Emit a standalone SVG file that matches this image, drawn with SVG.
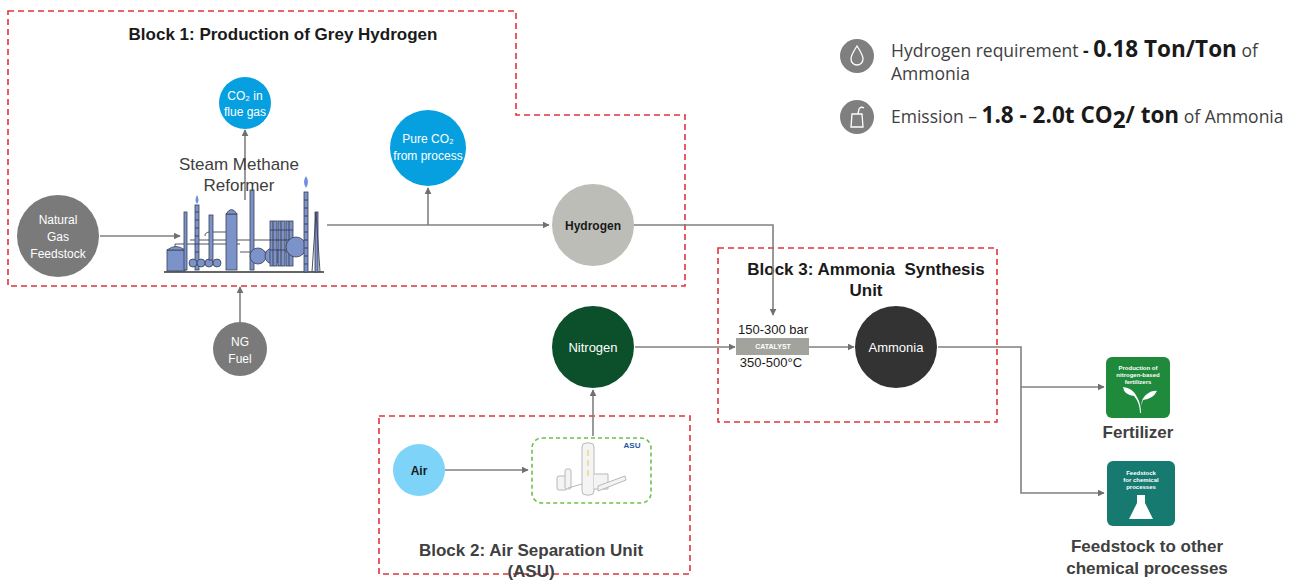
<svg xmlns="http://www.w3.org/2000/svg" width="1296" height="580" viewBox="0 0 1296 580">
  <style>
    .block { fill: none; stroke: #e0343c; stroke-width: 1.6; stroke-dasharray: 6 4; }
    .title { font-family: "Liberation Sans", Arial, sans-serif; font-weight: bold; font-size: 17px; fill: #1a1a1a; text-anchor: middle; }
    .title2 { font-family: "Liberation Sans", Arial, sans-serif; font-weight: bold; font-size: 17px; fill: #404040; text-anchor: middle; }
    .lbl { font-family: "Liberation Sans", Arial, sans-serif; font-size: 12px; fill: #ffffff; text-anchor: middle; }
    .lblb { font-family: "Liberation Sans", Arial, sans-serif; font-size: 12px; font-weight: bold; fill: #1a1a1a; text-anchor: middle; }
    .small { font-family: "Liberation Sans", Arial, sans-serif; font-size: 13px; fill: #1a1a1a; text-anchor: middle; }
    .conn { fill: none; stroke: #808080; stroke-width: 1.6; }
    .legend { font-family: "Open Sans", "Liberation Sans", sans-serif; font-size: 17.5px; fill: #404040; }
    .legendb { font-family: "Open Sans", "Liberation Sans", sans-serif; font-size: 22.5px; font-weight: bold; fill: #1a1a1a; }
    .tiny { font-family: "Liberation Sans", Arial, sans-serif; font-size: 6px; font-weight: bold; fill: #ffffff; text-anchor: middle; }
    .ref { fill: #7b93c9; stroke: #3a3f55; stroke-width: 0.8; }
    .refl { fill: none; stroke: #3a3f55; stroke-width: 0.9; }
  </style>
  <defs>
    <marker id="arr" viewBox="0 0 10 10" refX="9" refY="5" markerWidth="7" markerHeight="7" markerUnits="userSpaceOnUse" orient="auto">
      <path d="M0,0 L10,5 L0,10 z" fill="#707070"/>
    </marker>
  </defs>

  <rect width="1296" height="580" fill="#ffffff"/>

  <!-- process blocks -->
  <g id="block1">
    <path class="block" d="M8,11 H516 V115 H685 V286 H8 Z"/>
    <text class="title" x="283" y="40">Block 1: Production of Grey Hydrogen</text>
  </g>
  <g id="block2">
    <rect class="block" x="379" y="416" width="311" height="158"/>
    <text class="title2" x="531" y="556">Block 2: Air Separation Unit</text>
    <text class="title2" x="531" y="577">(ASU)</text>
  </g>
  <g id="block3">
    <rect class="block" x="718" y="248" width="279" height="174"/>
    <text class="title" x="866" y="275">Block 3: Ammonia&#160; Synthesis</text>
    <text class="title" x="866" y="296">Unit</text>
  </g>

  <!-- connectors -->
  <g id="connectors">
    <line class="conn" x1="100" y1="236" x2="180" y2="236" marker-end="url(#arr)"/>
    <line class="conn" x1="245" y1="200" x2="245" y2="130" marker-end="url(#arr)"/>
    <line class="conn" x1="327" y1="225" x2="549" y2="225" marker-end="url(#arr)"/>
    <line class="conn" x1="428" y1="225" x2="428" y2="188" marker-end="url(#arr)"/>
    <polyline class="conn" points="634,225 773,225 773,315" marker-end="url(#arr)"/>
    <line class="conn" x1="240" y1="322" x2="240" y2="287" marker-end="url(#arr)"/>
    <line class="conn" x1="635" y1="347" x2="735" y2="347" marker-end="url(#arr)"/>
    <line class="conn" x1="809" y1="347" x2="854" y2="347" marker-end="url(#arr)"/>
    <line class="conn" x1="593" y1="436" x2="593" y2="390" marker-end="url(#arr)"/>
    <line class="conn" x1="445" y1="470" x2="528" y2="470" marker-end="url(#arr)"/>
    <polyline class="conn" points="938,347 1021,347 1021,493 1104,493" marker-end="url(#arr)"/>
    <line class="conn" x1="1021" y1="387" x2="1104" y2="387" marker-end="url(#arr)"/>
  </g>

  <!-- Block 1 nodes -->
  <g id="natural-gas">
    <circle cx="58" cy="236" r="41" fill="#7a7a7a"/>
    <text class="lbl" x="58" y="224">Natural</text>
    <text class="lbl" x="58" y="241">Gas</text>
    <text class="lbl" x="58" y="258">Feedstock</text>
  </g>
  <g id="co2-flue">
    <circle cx="245" cy="103" r="26" fill="#069fdf"/>
    <text class="lbl" x="245" y="100">CO₂ in</text>
    <text class="lbl" x="245" y="116">flue gas</text>
  </g>
  <g id="co2-pure">
    <circle cx="428" cy="148" r="38" fill="#069fdf"/>
    <text class="lbl" x="428" y="143">Pure CO₂</text>
    <text class="lbl" x="428" y="160">from process</text>
  </g>
  <g id="smr">
    <!-- refinery sketch -->
    <g>
      <line x1="164" y1="272" x2="324" y2="272" stroke="#333" stroke-width="1.5"/>
      <path class="refl" d="M175,252 V244 H200 M200,244 H240 M190,240 H300 M205,236 Q205,232 210,232 H232 M240,252 H300"/>
      <rect class="ref" x="167" y="250" width="18" height="21"/>
      <path class="ref" d="M167,250 Q176,243 185,250 Z"/>
      <rect class="ref" x="184" y="212" width="3" height="58"/>
      <rect class="ref" x="195" y="205" width="4" height="65"/>
      <path class="refl" d="M195,212 H199 M195,220 H199 M195,228 H199 M195,236 H199 M195,244 H199 M195,252 H199" stroke-width="0.6"/>
      <path d="M197,195 q-3,5 0,9 q3,-4 0,-9z" fill="#6f8fe0"/>
      <circle class="ref" cx="193" cy="263" r="4"/>
      <circle class="ref" cx="201" cy="263" r="4"/>
      <circle class="ref" cx="209" cy="263" r="4"/>
      <circle class="ref" cx="217" cy="263" r="4"/>
      <rect class="ref" x="209" y="215" width="4" height="45"/>
      <rect class="ref" x="226" y="214" width="11" height="56"/>
      <path class="ref" d="M226,214 Q231.5,205 237,214 Z"/>
      <rect class="ref" x="250" y="190" width="4" height="80"/>
      <circle class="ref" cx="258" cy="256" r="8"/>
      <circle class="ref" cx="273" cy="256" r="8"/>
      <rect class="ref" x="270" y="221" width="7" height="45"/>
      <rect class="ref" x="278" y="221" width="7" height="45"/>
      <rect class="ref" x="286" y="221" width="7" height="45"/>
      <path class="refl" d="M270,230 H293 M270,240 H293 M270,250 H293 M273,221 V266 M281,221 V266 M289,221 V266" stroke-width="0.5"/>
      <circle class="ref" cx="296" cy="247" r="10"/>
      <rect class="ref" x="304" y="192" width="4" height="80"/>
      <path class="refl" d="M304,200 H308 M304,208 H308 M304,216 H308 M304,224 H308 M304,232 H308 M304,240 H308 M304,248 H308 M304,256 H308 M304,264 H308" stroke-width="0.6"/>
      <path d="M306,176 q-4,6 0,12 q4,-6 0,-12z" fill="#6f8fe0"/>
      <rect class="ref" x="315" y="212" width="3" height="60"/>
      <path class="refl" d="M312,272 L316,212 L320,272" stroke-width="0.6"/>
    </g>
    <text x="239" y="170" font-family="Liberation Sans, Arial, sans-serif" font-size="17" fill="#404040" text-anchor="middle">Steam Methane</text>
    <text x="239" y="191" font-family="Liberation Sans, Arial, sans-serif" font-size="17" fill="#404040" text-anchor="middle">Reformer</text>
  </g>
  <g id="hydrogen">
    <circle cx="593" cy="225" r="41" fill="#bdbdb8"/>
    <text class="lblb" x="593" y="230">Hydrogen</text>
  </g>
  <g id="ng-fuel">
    <circle cx="240" cy="349" r="27" fill="#7a7a7a"/>
    <text class="lbl" x="240" y="346">NG</text>
    <text class="lbl" x="240" y="363">Fuel</text>
  </g>

  <!-- Block 2 nodes -->
  <g id="air">
    <circle cx="419" cy="470" r="26" fill="#7dd3f8"/>
    <text class="lblb" x="419" y="475">Air</text>
  </g>
  <g id="asu">
    <rect x="532" y="438" width="119" height="65" rx="10" fill="none" stroke="#6cc24a" stroke-width="1.6" stroke-dasharray="4 3"/>
    <text x="632" y="448" font-family="Liberation Sans, Arial, sans-serif" font-size="8" font-weight="bold" fill="#1f5aa0" text-anchor="middle">ASU</text>
    <g fill="#f4f4f4" stroke="#b8b8b8" stroke-width="1">
      <rect x="582" y="443" width="12" height="52" rx="4"/>
      <rect x="557" y="476" width="10" height="14" rx="2"/>
      <rect x="565" y="469" width="6" height="20" rx="2"/>
      <path d="M568,488 L582,484 M594,474 H608 V489 H594"/>
      <path d="M598,486 L625,476 L626,480 L598,491 Z"/>
    </g>
    <path d="M588,450 v6 M588,460 v6 M588,470 v6" stroke="#e6c64a" stroke-width="1"/>
  </g>
  <g id="nitrogen">
    <circle cx="593" cy="347" r="41" fill="#0b4f2b"/>
    <text x="593" y="352" font-family="Liberation Sans, Arial, sans-serif" font-size="13" fill="#ffffff" text-anchor="middle">Nitrogen</text>
  </g>

  <!-- Block 3 nodes -->
  <g id="catalyst">
    <text class="small" x="773" y="334">150-300 bar</text>
    <rect x="736" y="338" width="73" height="17" fill="#a3a39e"/>
    <text x="773" y="349" font-family="Liberation Sans, Arial, sans-serif" font-size="7" font-weight="bold" fill="#ffffff" text-anchor="middle">CATALYST</text>
    <text class="small" x="771" y="367">350-500°C</text>
  </g>
  <g id="ammonia">
    <circle cx="896" cy="347" r="41" fill="#333333"/>
    <text x="896" y="352" font-family="Liberation Sans, Arial, sans-serif" font-size="13" fill="#ffffff" text-anchor="middle">Ammonia</text>
  </g>

  <!-- End uses -->
  <g id="fertilizer">
    <rect x="1106" y="357" width="64" height="61" rx="6" fill="#1f8a3c"/>
    <text class="tiny" x="1138" y="370">Production of</text>
    <text class="tiny" x="1138" y="377">nitrogen-based</text>
    <text class="tiny" x="1138" y="384">fertilizers</text>
    <path d="M1140,413 Q1140,403 1134,396 Q1124,395 1123,387 Q1133,388 1137,397 Q1141,404 1141,413 Z" fill="#ffffff"/>
    <path d="M1141,406 Q1142,397 1147,394 Q1152,390 1157,391 Q1153,399 1143,400 Z" fill="#ffffff"/>
    <text class="title2" x="1138" y="438">Fertilizer</text>
  </g>
  <g id="feedstock">
    <rect x="1107" y="461" width="68" height="65" rx="6" fill="#177a71"/>
    <text class="tiny" x="1141" y="475">Feedstock</text>
    <text class="tiny" x="1141" y="482">for chemical</text>
    <text class="tiny" x="1141" y="489">processes</text>
    <path d="M1137,495 H1145 V503 L1153,519 H1129 L1137,503 Z" fill="#ffffff"/>
    <text class="title2" x="1147" y="552">Feedstock to other</text>
    <text class="title2" x="1147" y="574">chemical processes</text>
  </g>

  <!-- Key figures -->
  <g id="legend-hydrogen">
    <circle cx="857" cy="56" r="17" fill="#7f7f7f"/>
    <path d="M857,46 Q851,55 851,59 A6,6 0 0 0 863,59 Q863,55 857,46 Z" fill="none" stroke="#ffffff" stroke-width="1.3"/>
    <text class="legend" x="891" y="57">Hydrogen requirement <tspan font-weight="bold" fill="#1a1a1a">- </tspan><tspan class="legendb">0.18 Ton/Ton</tspan> of</text>
    <text class="legend" x="891" y="80">Ammonia</text>
  </g>
  <g id="legend-emission">
    <circle cx="857" cy="117" r="17" fill="#7f7f7f"/>
    <path d="M851,127 L852,114 H862 L863,127 Z M858,114 L859,109 Q861,106 864,108" fill="none" stroke="#ffffff" stroke-width="1.3"/>
    <text class="legend" x="891" y="123">Emission – <tspan class="legendb">1.8 - 2.0t CO</tspan><tspan class="legendb" font-size="14" dy="5">2</tspan><tspan class="legendb" dy="-5">/ ton</tspan> of Ammonia</text>
  </g>
</svg>
